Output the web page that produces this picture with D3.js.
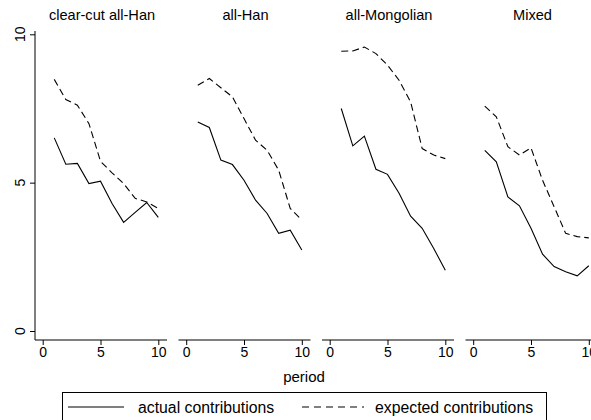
<!DOCTYPE html>
<html><head><meta charset="utf-8">
<script src="https://cdn.jsdelivr.net/npm/d3@7"></script>
<style>
html,body{margin:0;padding:0;background:#fff;}
svg{display:block;font-family:"Liberation Sans",Arial,Helvetica,sans-serif;}
</style></head>
<body>
<script>
const panels = ["clear-cut all-Han", "all-Han", "all-Mongolian", "Mixed"];
const periods = [1,2,3,4,5,6,7,8,9,10];
const actual = [
  [6.51, 5.62, 5.65, 4.97, 5.05, 4.30, 3.66, 4.00, 4.33, 3.83],
  [7.04, 6.86, 5.76, 5.61, 5.08, 4.41, 3.96, 3.29, 3.40, 2.73],
  [7.50, 6.24, 6.57, 5.45, 5.28, 4.64, 3.87, 3.46, 2.78, 2.05],
  [6.09, 5.70, 4.52, 4.22, 3.46, 2.59, 2.17, 2.00, 1.86, 2.20]
];
const expected = [
  [8.48, 7.80, 7.61, 6.99, 5.72, 5.33, 4.97, 4.47, 4.35, 4.13],
  [8.28, 8.51, 8.20, 7.89, 7.16, 6.43, 6.09, 5.42, 4.13, 3.74],
  [9.43, 9.44, 9.57, 9.35, 8.96, 8.45, 7.72, 6.15, 5.93, 5.81],
  [7.58, 7.22, 6.21, 5.93, 6.17, 5.08, 4.19, 3.29, 3.18, 3.14]
];
const xTicks = [0, 5, 10];
const yTicks = [0, 5, 10];
const xTitle = "period";
const legendLabels = ["actual contributions", "expected contributions"];

const W = 591, H = 420;
const svg = d3.select("body").append("svg").attr("width", W).attr("height", H);

const plotTop = 31, axisY = 340;
const panelW = 132, firstLeft = 35, step = 143.5;
const y = d3.scaleLinear().domain([0, 10]).range([331, 34.3]);
const ink = "#000";

panels.forEach((name, i) => {
  const left = firstLeft + i * step;
  const x = d3.scaleLinear().domain([0, 10]).range([left + 7.7, left + 123.3]);
  const g = svg.append("g");

  // x axis
  g.append("line").attr("x1", left).attr("x2", left + panelW)
    .attr("y1", axisY).attr("y2", axisY).attr("stroke", ink).attr("stroke-width", 1);
  const ax = g.append("g").attr("transform", `translate(0,${axisY})`)
    .call(d3.axisBottom(x).tickValues(xTicks).tickSize(5).tickPadding(2).tickFormat(d3.format("d")));
  ax.select(".domain").remove();
  ax.selectAll("line").attr("stroke", ink);
  ax.selectAll("text").attr("font-size", 14).attr("fill", ink)
    .attr("font-family", "Liberation Sans, Arial, sans-serif");

  // title
  g.append("text").attr("x", left + panelW / 2 + 1).attr("y", 20)
    .attr("text-anchor", "middle").attr("font-size", 14.6).attr("fill", ink).text(name);

  const line = d3.line().x((d, k) => x(periods[k])).y(d => y(d));
  g.append("path").datum(actual[i]).attr("d", line)
    .attr("fill", "none").attr("stroke", ink).attr("stroke-width", 1.1);
  g.append("path").datum(expected[i]).attr("d", line)
    .attr("fill", "none").attr("stroke", ink).attr("stroke-width", 1.1)
    .attr("stroke-dasharray", "7,4");

  if (i === 0) {
    g.append("line").attr("x1", left).attr("x2", left)
      .attr("y1", plotTop).attr("y2", axisY).attr("stroke", ink).attr("stroke-width", 1);
    const ay = g.append("g").attr("transform", `translate(${left},0)`)
      .call(d3.axisLeft(y).tickValues(yTicks).tickSize(5).tickFormat(d3.format("d")));
    ay.select(".domain").remove();
    ay.selectAll("line").attr("stroke", ink);
    ay.selectAll("text").remove();
    yTicks.forEach(v => {
      g.append("text").attr("transform", `translate(${left - 10},${y(v)}) rotate(-90)`)
        .attr("text-anchor", "middle").attr("font-size", 14).attr("fill", ink).text(v);
    });
  }
});

// x title
svg.append("text").attr("x", 304).attr("y", 382).attr("text-anchor", "middle")
  .attr("font-size", 15).attr("fill", ink).text(xTitle);

// legend
const lg = svg.append("g");
lg.append("rect").attr("x", 62.5).attr("y", 392.5).attr("width", 484).attr("height", 40)
  .attr("fill", "#fff").attr("stroke", ink).attr("stroke-width", 1);
lg.append("line").attr("x1", 68).attr("x2", 124).attr("y1", 407).attr("y2", 407)
  .attr("stroke", ink).attr("stroke-width", 1.1);
lg.append("text").attr("x", 138).attr("y", 412.5).attr("font-size", 15.8).attr("fill", ink).text(legendLabels[0]);
lg.append("line").attr("x1", 302).attr("x2", 364).attr("y1", 407).attr("y2", 407)
  .attr("stroke", ink).attr("stroke-width", 1.1).attr("stroke-dasharray", "7,5");
lg.append("text").attr("x", 375).attr("y", 412.5).attr("font-size", 15.8).attr("fill", ink).text(legendLabels[1]);
</script>
</body></html>
